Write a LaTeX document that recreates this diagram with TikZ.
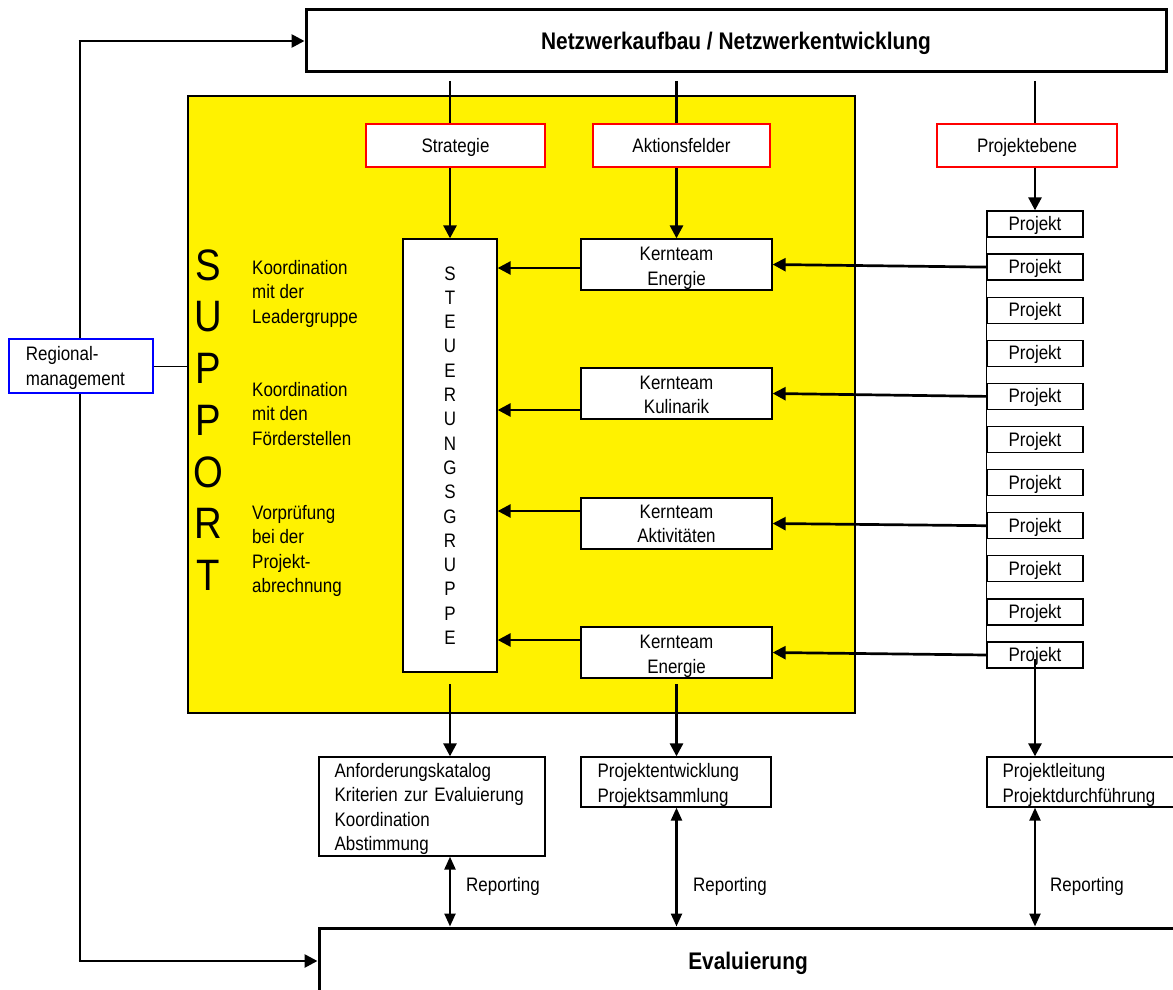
\documentclass[tikz,border=0pt]{standalone}
\usepackage{fontspec}
\setmainfont{Liberation Sans}[FakeStretch=0.87]
\usetikzlibrary{arrows.meta,calc}
\newcommand{\fsn}{\fontsize{19.5}{24.5}\selectfont}
\newcommand{\fsbold}{\fontsize{24}{28}\selectfont\bfseries}
\newcommand{\fsbig}{\fontsize{44}{51.7}\selectfont}
\newcommand{\fsst}{\fontsize{19.5}{24.3}\selectfont}
\begin{document}
\begin{tikzpicture}[x=1pt,y=-1pt,
  box/.style={draw, fill=white, line width=1.3pt, inner sep=0pt, align=center, font=\fsn},
  one/.style={text height=14pt, text depth=1pt},
  redbox/.style={box, one, draw=red, line width=2.6pt},
  conn/.style={line width=2.7pt},
  arr/.style={line width=2.7pt, -{Triangle[length=13pt,width=13pt]}},
  darr/.style={line width=2.4pt, {Triangle[length=13pt,width=11pt]}-{Triangle[length=13pt,width=11pt]}},
  lbl/.style={inner sep=0pt, font=\fsn, align=left},
  txt/.style={inner sep=0pt, font=\fsn}]
\useasboundingbox (0,0) rectangle (1173,990);

% yellow support area
\node[draw, fill=yellow, line width=1.5pt, minimum width=667pt, minimum height=617pt, inner sep=0pt] (support) at (521.5,404.5) {};

% top and bottom boxes
\node[box, line width=3pt, minimum width=860pt, minimum height=62pt, font=\fsbold, text height=17.5pt, text depth=1pt] (top) at (736,41) {Netzwerkaufbau / Netzwerkentwicklung};
\node[box, line width=3pt, minimum width=858pt, minimum height=66pt, font=\fsbold, text height=17.5pt, text depth=1pt] (eval) at (748,961) {Evaluierung};

% red headers
\node[redbox, minimum width=179pt, minimum height=43pt] (strat) at (455.5,145.5) {Strategie};
\node[redbox, minimum width=177pt, minimum height=43pt] (akt) at (681.5,145.5) {Aktionsfelder};
\node[redbox, minimum width=180pt, minimum height=43pt] (proj) at (1027,145.5) {Projektebene};

% Steuerungsgruppe
\node[box, minimum width=94pt, minimum height=433pt, font=\fsst] (steu) at (450,455.5) {S\\T\\E\\U\\E\\R\\U\\N\\G\\S\\G\\R\\U\\P\\P\\E};

% Kernteams
\node[box, minimum width=191pt, minimum height=51pt] (ke1) at (676.5,264.5) {};
\node[box, minimum width=191pt, minimum height=51pt] (ke2) at (676.5,393.5) {};
\node[box, minimum width=191pt, minimum height=51pt] (ke3) at (676.5,523.5) {};
\node[box, minimum width=191pt, minimum height=51pt] (ke4) at (676.5,652.5) {};
\node[txt, align=center, yshift=-4pt] (ke1t) at (ke1.center) {Kernteam\\Energie};
\node[txt, align=center, yshift=-1.5pt] (ke2t) at (ke2.center) {Kernteam\\Kulinarik};
\node[txt, align=center, yshift=-0.5pt] (ke3t) at (ke3.center) {Kernteam\\Aktivitäten};
\node[txt, align=center, yshift=-4pt] (ke4t) at (ke4.center) {Kernteam\\Energie};

% Projekte
\foreach \i in {1,...,11}
  \node[box, one, minimum width=96pt, minimum height=26pt] (p\i) at (1035,{224+43.1*(\i-1)}) {Projekt};
\draw[line width=0.9pt] (p1.south west) -- (p11.north west);

% bottom result boxes
\node[box, minimum width=226pt, minimum height=99pt] (anf) at (432,806.5) {};
\node[box, minimum width=190pt, minimum height=50pt] (pe) at (676,782) {};
\node[box, minimum width=193pt, minimum height=50pt] (pl) at (1083.5,782) {};
\node[txt, align=left, anchor=west, text width=194pt, xshift=16pt, yshift=-2.5pt] (anft) at (anf.west)
  {Anforderungskatalog\\Kriterien zur Evaluierung\\Koordination\\Abstimmung};
\node[txt, align=left, anchor=west, text width=160pt, xshift=17pt, yshift=-3pt] (pet) at (pe.west)
  {Projektentwicklung\\Projektsammlung};
\node[txt, align=left, anchor=west, text width=165pt, xshift=16pt, yshift=-3pt] (plt) at (pl.west)
  {Projektleitung\\Projektdurchführung};

% SUPPORT text
\node[inner sep=0pt, font=\fsbig, align=center] (suptxt) at (208,420) {S\\U\\P\\P\\O\\R\\T};
\node[lbl, anchor=north west] (s1) at (252,260) {Koordination\\mit der\\Leadergruppe};
\node[lbl, anchor=north west] (s2) at (252,382) {Koordination\\mit den\\Förderstellen};
\node[lbl, anchor=north west] (s3) at (252,505) {Vorprüfung\\bei der\\Projekt-\\abrechnung};

% connectors from top
\coordinate (t1) at (450,81);
\coordinate (t2) at (676.5,81);
\coordinate (t3) at (1035,81);
\draw[conn] (t1) -- (t1 |- strat.north);
\draw[conn] (t2) -- (t2 |- akt.north);
\draw[conn] (t3) -- (t3 |- proj.north);
\draw[arr] (strat.south -| steu.north) -- (steu.north);
\draw[arr] (akt.south -| ke1.north) -- (ke1.north);
\draw[arr] (proj.south -| p1.north) -- (p1.north);

% Projekt -> Kernteam
\draw[arr] (p2.west) -- (ke1.east);
\draw[arr] (p5.west) -- (ke2.east);
\draw[arr] (p8.west) -- (ke3.east);
\draw[arr] (p11.west) -- (ke4.east);

% Kernteam -> Steuerungsgruppe
\draw[arr] ([yshift=-3.5pt]ke1.west) -- ([yshift=-3.5pt]ke1.west -| steu.east);
\draw[arr] ([yshift=-16.5pt]ke2.west) -- ([yshift=-16.5pt]ke2.west -| steu.east);
\draw[arr] ([yshift=12.5pt]ke3.west) -- ([yshift=12.5pt]ke3.west -| steu.east);
\draw[arr] ([yshift=12.5pt]ke4.west) -- ([yshift=12.5pt]ke4.west -| steu.east);

% down to result boxes
\coordinate (b1) at (450,684);
\coordinate (b2) at (676.5,684);
\coordinate (b3) at (1035,659);
\draw[arr] (b1) -- (b1 |- anf.north);
\draw[arr] (b2) -- (b2 |- pe.north);
\draw[arr] (b3) -- (b3 |- pl.north);

% reporting
\draw[darr] (anf.south -| b1) -- (eval.north -| b1);
\draw[darr] (pe.south -| b2) -- (eval.north -| b2);
\draw[darr] (pl.south -| b3) -- (eval.north -| b3);
\node[lbl, one, anchor=west] (r1) at (466,885) {Reporting};
\node[lbl, one, anchor=west] (r2) at (693,885) {Reporting};
\node[lbl, one, anchor=west] (r3) at (1050,885) {Reporting};

% left loop
\coordinate (lt) at (80,41);
\coordinate (lb) at (80,961);
\draw[conn] (lt) -- (lb);
\draw[arr] ([xshift=-1.35pt]lt) -- (top.west);
\draw[arr] ([xshift=-1.35pt]lb) -- (eval.west);

% Regionalmanagement
\node[box, draw=blue, line width=2.6pt, minimum width=144pt, minimum height=54pt] (rm) at (81,366) {};
\node[txt, align=left, anchor=west, text width=120pt, xshift=18pt, yshift=-2pt] (rmt) at (rm.west) {Regional-\\management};
\draw[line width=1pt] (rm.east) -- (rm.east -| support.west);
\end{tikzpicture}
\end{document}
